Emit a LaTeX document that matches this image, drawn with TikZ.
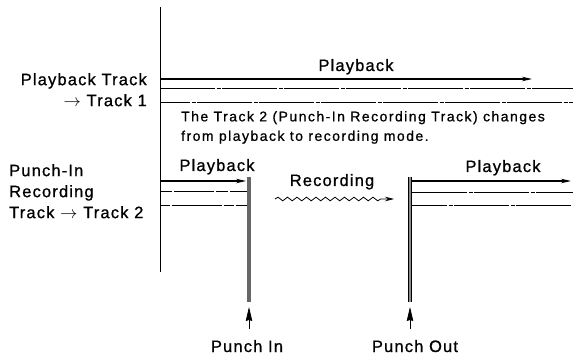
\documentclass[tikz,border=0pt]{standalone}
\usepackage{fontspec}
\setmainfont{Liberation Sans}[FakeBold=0.9]
\usetikzlibrary{arrows.meta,decorations.pathmorphing}

\begin{document}
\begin{tikzpicture}[
  x=1pt, y=-1pt,
  font=\fontsize{16.5}{21}\selectfont\addfontfeature{LetterSpace=7},
  lbl/.style={inner sep=0pt},
  note/.style={inner sep=0pt, align=left,
               font=\fontsize{14}{19.5}\selectfont\addfontfeature{LetterSpace=10.5}},
  trk/.style={line width=0.9pt},
  dtrk/.style={line width=0.9pt, dash pattern=on 55pt off 1.5pt on 4pt off 1.5pt},
  play/.style={line width=1.1pt, -{Stealth[length=10pt, width=4.5pt]}},
  punch/.style={line width=3.5pt, black!60},
  punchmark/.style={line width=0.7pt, -{Stealth[length=14pt, width=6.5pt, inset=1pt]}}
]
\useasboundingbox (0,0) rectangle (573,358);

% time axis
\coordinate (ax0) at (160,7);
\coordinate (ax1) at (160,272);
\draw[line width=0.8pt] (ax0) -- (ax1);

% track 1
\coordinate (p1a) at (160,79);  \coordinate (p1b) at (532,79);
\coordinate (p2a) at (160,88);  \coordinate (p2b) at (573,88);
\coordinate (p3a) at (160,102); \coordinate (p3b) at (573,102);
\draw[play] (p1a) -- (p1b);
\draw[dtrk] (p2a) -- (p2b);
\draw[dtrk, dash phase=25pt] (p3a) -- (p3b);

\node[lbl, align=right, anchor=north east] (t1lbl) at (147,73)
  {Playback Track\\$\rightarrow$ Track 1};
\node[lbl, anchor=base] (play1) at (356,71) {Playback};
\node[note, anchor=north west] (info) at (181,111)
  {The Track 2 (Punch-In Recording Track) changes\\from playback to recording mode.};

% track 2
\node[lbl, align=left, anchor=north west] (t2lbl) at (9,164)
  {Punch-In\\Recording\\Track $\rightarrow$ Track 2};

\coordinate (in0) at (249,177);  \coordinate (in1) at (249,302);
\coordinate (out0) at (410,177); \coordinate (out1) at (410,302);
\draw[punch] (in0) -- (in1);
\draw[line width=0.5pt, double=black!45, double distance=2.2pt] (out0) -- (out1);

\coordinate (q1a) at (160,181); \coordinate (q1b) at (246,181);
\coordinate (q2a) at (160,191); \coordinate (q2b) at (247,191);
\coordinate (q3a) at (160,205); \coordinate (q3b) at (247,205);
\draw[play] (q1a) -- (q1b);
\draw[dtrk, dash pattern=on 12pt off 2pt on 40pt off 1.5pt] (q2a) -- (q2b);
\draw[dtrk, dash pattern=on 10pt off 2pt on 50pt off 1.5pt] (q3a) -- (q3b);
\node[lbl, anchor=base] (play2) at (217,171) {Playback};

\coordinate (r1a) at (412,181); \coordinate (r1b) at (571,181);
\coordinate (r2a) at (412,192); \coordinate (r2b) at (573,192);
\coordinate (r3a) at (412,205); \coordinate (r3b) at (573,205);
\draw[play] (r1a) -- (r1b);
\draw[dtrk] (r2a) -- (r2b);
\draw[dtrk, dash phase=20pt] (r3a) -- (r3b);
\node[lbl, anchor=base] (play3) at (503,172) {Playback};

% recording
\coordinate (w0) at (275,199);
\coordinate (w1) at (394,199);
\draw[line width=0.8pt, -{Stealth[length=9pt, width=4.5pt]}, decorate,
      decoration={snake, amplitude=1.8pt, segment length=9.5pt, post length=12pt}]
  (w0) -- (w1);
\node[lbl, anchor=base] (rec) at (332,186) {Recording};

% punch markers
\coordinate (ia0) at (249,329); \coordinate (ia1) at (249,307);
\coordinate (oa0) at (410,329); \coordinate (oa1) at (410,307);
\draw[punchmark] (ia0) -- (ia1);
\draw[punchmark] (oa0) -- (oa1);
\node[lbl, anchor=base] (pin) at (247,352) {Punch In};
\node[lbl, anchor=base] (pout) at (415,352) {Punch Out};
\end{tikzpicture}
\end{document}
